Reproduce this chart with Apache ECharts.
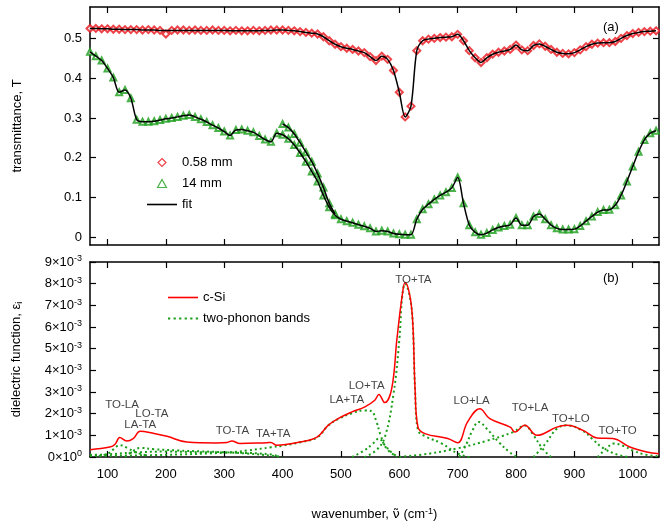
<!DOCTYPE html>
<html>
<head>
<meta charset="utf-8">
<script src="https://cdn.jsdelivr.net/npm/echarts@6/dist/echarts.min.js"></script>
<style>html,body{margin:0;padding:0;background:#fff}#main{width:660px;height:525px}</style>
</head>
<body>
<div id="main"></div>
<script>
// wavenumber grid of the transmittance data (cm-1), 70 .. 1040 every 10
const wn = Array.from({ length: 98 }, (_, i) => 70 + 10 * i)

// transmittance, 0.58 mm sample (data)
const t058 = [
  0.526, 0.526, 0.525, 0.525, 0.524, 0.524, 0.523, 0.523, 0.523, 0.522,
  0.523, 0.522, 0.521, 0.512, 0.521, 0.522, 0.522, 0.521, 0.522, 0.521,
  0.521, 0.522, 0.521, 0.521, 0.520, 0.521, 0.520, 0.520, 0.521, 0.520,
  0.521, 0.522, 0.522, 0.522, 0.521, 0.520, 0.518, 0.516, 0.514, 0.512,
  0.505, 0.495, 0.486, 0.480, 0.476, 0.473, 0.469, 0.465, 0.455, 0.445,
  0.456, 0.448, 0.420, 0.365, 0.303, 0.330, 0.470, 0.495, 0.499, 0.501,
  0.503, 0.504, 0.505, 0.511, 0.495, 0.470, 0.452, 0.440, 0.452, 0.461,
  0.466, 0.469, 0.473, 0.484, 0.472, 0.470, 0.483, 0.487, 0.481, 0.473,
  0.466, 0.463, 0.462, 0.465, 0.472, 0.480, 0.486, 0.489, 0.490, 0.490,
  0.493, 0.501, 0.508, 0.513, 0.516, 0.518, 0.519, 0.520
]
// fit for 0.58 mm
const fit058 = [
  0.526, 0.526, 0.525, 0.525, 0.524, 0.524, 0.523, 0.523, 0.523, 0.522,
  0.522, 0.522, 0.521, 0.521, 0.521, 0.521, 0.521, 0.521, 0.521, 0.521,
  0.521, 0.521, 0.521, 0.521, 0.520, 0.520, 0.520, 0.520, 0.520, 0.520,
  0.521, 0.521, 0.522, 0.522, 0.521, 0.520, 0.518, 0.516, 0.514, 0.512,
  0.505, 0.495, 0.486, 0.480, 0.476, 0.473, 0.469, 0.465, 0.455, 0.445,
  0.456, 0.448, 0.420, 0.365, 0.303, 0.330, 0.470, 0.495, 0.499, 0.501,
  0.503, 0.504, 0.505, 0.511, 0.495, 0.470, 0.452, 0.440, 0.452, 0.461,
  0.466, 0.469, 0.473, 0.484, 0.472, 0.470, 0.483, 0.487, 0.481, 0.473,
  0.466, 0.463, 0.462, 0.465, 0.472, 0.480, 0.486, 0.489, 0.490, 0.490,
  0.493, 0.501, 0.508, 0.513, 0.516, 0.518, 0.519, 0.520
]
// transmittance, 14 mm sample
const t14 = [
  0.467, 0.456, 0.445, 0.425, 0.402, 0.365, 0.371, 0.350, 0.296, 0.291,
  0.291, 0.292, 0.295, 0.298, 0.300, 0.303, 0.306, 0.308, 0.303, 0.297,
  0.290, 0.282, 0.275, 0.266, 0.256, 0.270, 0.271, 0.268, 0.264, 0.255,
  0.246, 0.240, 0.262, 0.258, 0.248, 0.232, 0.212, 0.190, 0.165, 0.140,
  0.105, 0.075, 0.055, 0.045, 0.040, 0.036, 0.031, 0.027, 0.022, 0.014,
  0.016, 0.014, 0.009, 0.007, 0.006, 0.006, 0.045, 0.070, 0.083, 0.095,
  0.105, 0.113, 0.124, 0.150, 0.085, 0.030, 0.012, 0.006, 0.010, 0.018,
  0.024, 0.028, 0.031, 0.048, 0.030, 0.030, 0.052, 0.058, 0.045, 0.030,
  0.022, 0.019, 0.019, 0.020, 0.028, 0.040, 0.052, 0.063, 0.068, 0.069,
  0.080, 0.105, 0.140, 0.178, 0.215, 0.245, 0.262, 0.268
]
// second (overlapping) 14 mm measurement range
const wn14b = [400, 410, 420, 430, 440, 450, 460, 470, 480, 490]
const t14b = [0.285, 0.276, 0.260, 0.238, 0.214, 0.190, 0.160, 0.125, 0.085, 0.058]

// dielectric function of c-Si (units of 1e-3)
const csiX = [70, 104, 113, 121, 133, 144, 156, 180, 202, 236, 287, 305, 313, 327, 373, 380, 390, 430, 459, 478, 495, 519, 541, 558, 565, 575, 587, 596, 605, 610, 618, 623, 627, 632, 644, 683, 700, 717, 738, 755, 790, 798, 815, 836, 870, 887, 915, 939, 966, 995, 1024, 1045]
const csiY = [0.34, 0.46, 0.59, 0.90, 0.74, 0.85, 1.19, 1.08, 0.955, 0.69, 0.65, 0.67, 0.74, 0.62, 0.66, 0.67, 0.54, 0.69, 0.92, 1.46, 1.77, 2.08, 2.31, 2.62, 2.88, 2.51, 3.16, 5.46, 7.46, 8.05, 7.46, 6.23, 3.16, 1.38, 1.08, 0.85, 0.66, 1.62, 2.23, 1.77, 1.38, 1.15, 1.46, 1.00, 1.38, 1.46, 1.23, 0.88, 0.85, 0.46, 0.23, 0.15]

// two-phonon bands (units of 1e-3)
const bands = [
  { x: [85, 100, 110, 121, 135, 150, 170], y: [0.05, 0.15, 0.35, 0.55, 0.40, 0.20, 0.05] },
  { x: [130, 145, 156, 180, 220, 260, 300, 340, 380, 400], y: [0, 0.30, 0.42, 0.36, 0.30, 0.26, 0.22, 0.16, 0.06, 0] },
  { x: [70, 100, 140, 200, 260, 320, 380, 395], y: [0.10, 0.12, 0.20, 0.25, 0.22, 0.20, 0.12, 0] },
  { x: [70, 200, 300, 340, 380, 400, 430, 459, 478, 495, 519, 540, 552, 560, 568, 578, 596], y: [0.05, 0.10, 0.20, 0.30, 0.45, 0.52, 0.68, 0.90, 1.45, 1.75, 2.02, 2.15, 2.12, 1.70, 1.00, 0.40, 0] },
  { x: [519, 540, 555, 565, 575, 588, 598], y: [0, 0.30, 0.62, 0.85, 0.55, 0.18, 0] },
  { x: [540, 560, 575, 590, 600, 605, 610, 618, 623, 627, 632, 645, 673, 700, 720], y: [0, 0.30, 0.90, 2.90, 5.40, 7.40, 8.00, 7.40, 6.20, 3.10, 1.23, 0.95, 0.62, 0.16, 0] },
  { x: [600, 650, 700, 750, 795, 815, 830, 845, 860], y: [0, 0.15, 0.40, 0.75, 1.15, 1.45, 1.00, 0.40, 0] },
  { x: [703, 715, 725, 736, 750, 770, 790, 802], y: [0, 0.60, 1.20, 1.62, 1.30, 0.70, 0.20, 0] },
  { x: [830, 850, 870, 887, 915, 930, 950, 975, 995], y: [0, 0.60, 1.30, 1.46, 1.20, 0.85, 0.40, 0.10, 0] },
  { x: [940, 955, 968, 985, 1000, 1020, 1045], y: [0, 0.40, 0.62, 0.50, 0.30, 0.12, 0.03] }
]

// peak labels (x in cm-1, y in 1e-3)
const annoText = ['TO-LA', 'LO-TA', 'LA-TA', 'TO-TA', 'TA+TA', 'LA+TA', 'LO+TA', 'TO+TA', 'LO+LA', 'TO+LA', 'TO+LO', 'TO+TO']
const annoX = [125, 176, 156, 314, 384, 510, 544, 624, 724, 824, 894, 974]
const annoY = [2.43, 1.97, 1.48, 1.23, 1.08, 2.66, 3.28, 8.20, 2.58, 2.28, 1.74, 1.23]

const xTicks = [100, 200, 300, 400, 500, 600, 700, 800, 900, 1000]
const tTicks = [0, 0.1, 0.2, 0.3, 0.4, 0.5]

const font = 'Liberation Sans, Arial, sans-serif'
const RED = '#e8141c'
const GREEN = '#1a9e1a'
const pairs = (xs, ys) => xs.map((x, i) => [x, ys[i]])

// legend icons
const ICON_DIAMOND = 'path://M5,0L10,5L5,10L0,5Z'
const ICON_TRIANGLE = 'path://M5,0L10,9L0,9Z'
const ICON_LINE = 'path://M0,0L30,0L30,1.6L0,1.6Z'
const ICON_DOTS = 'path://M0,0h2v2h-2zM5,0h2v2h-2zM10,0h2v2h-2zM15,0h2v2h-2zM20,0h2v2h-2zM25,0h2v2h-2z'

const frame = { onZero: false, lineStyle: { color: '#000', width: 1.5 } }
const tick = vals => ({ inside: true, length: 6, customValues: vals, lineStyle: { color: '#000', width: 1.2 } })
const xAx = (g, pos, labels) => ({
  gridIndex: g, type: 'value', min: 70, max: 1045, position: pos,
  axisLine: frame, axisTick: tick(xTicks), splitLine: { show: false },
  axisLabel: labels
    ? { customValues: xTicks, formatter: v => String(v), color: '#000', fontSize: 13, fontFamily: font, margin: 11 }
    : { show: false }
})
const legendText = { fontSize: 13, color: '#000', fontFamily: font }

const chart = echarts.init(document.getElementById('main'))
chart.setOption({
  animation: false,
  textStyle: { fontFamily: font, color: '#000' },
  grid: [
    { left: 90, right: 1, top: 7, height: 238 },
    { left: 90, right: 1, top: 262, height: 195 }
  ],
  xAxis: [
    xAx(0, 'bottom', false),
    xAx(0, 'top', false),
    Object.assign(xAx(1, 'bottom', true), {
      name: 'wavenumber, {nu|ν\u0303} (cm{sup|-1})', nameLocation: 'middle', nameGap: 50,
      nameTextStyle: {
        fontSize: 13, color: '#000', fontFamily: font,
        rich: {
          nu: { fontSize: 13, fontFamily: 'DejaVu Sans', color: '#000' },
          sup: { fontSize: 9, verticalAlign: 'top', padding: [0, 0, 6, 0], color: '#000' }
        }
      }
    }),
    xAx(1, 'top', false)
  ],
  yAxis: [
    {
      gridIndex: 0, type: 'value', min: -0.02, max: 0.58, position: 'left',
      axisLine: frame, axisTick: tick(tTicks), splitLine: { show: false },
      axisLabel: { customValues: tTicks, color: '#000', fontSize: 13, fontFamily: font, margin: 8 },
      name: 'transmittance, T', nameLocation: 'middle', nameRotate: 90, nameGap: 66,
      nameTextStyle: { fontSize: 13, color: '#000', fontFamily: font }
    },
    {
      gridIndex: 0, type: 'value', min: -0.02, max: 0.58, position: 'right',
      axisLine: frame, axisTick: tick(tTicks), axisLabel: { show: false }, splitLine: { show: false }
    },
    {
      gridIndex: 1, type: 'value', min: 0, max: 9, interval: 1, position: 'left',
      axisLine: frame, axisTick: { inside: true, length: 6, lineStyle: { color: '#000', width: 1.2 } }, splitLine: { show: false },
      axisLabel: {
        color: '#000', fontSize: 13, fontFamily: font, margin: 8,
        formatter: v => v === 0 ? '0×10{sup|0}' : v + '×10{sup|-3}',
        rich: { sup: { fontSize: 9, verticalAlign: 'top', padding: [0, 0, 6, 0] } }
      },
      name: 'dielectric function, ε{sub|i}', nameLocation: 'middle', nameRotate: 90, nameGap: 66,
      nameTextStyle: { fontSize: 13, color: '#000', fontFamily: font, rich: { sub: { fontSize: 9, verticalAlign: 'bottom', padding: [6, 0, 0, 0] } } }
    },
    {
      gridIndex: 1, type: 'value', min: 0, max: 9, interval: 1, position: 'right',
      axisLine: frame, axisTick: { inside: true, length: 6, lineStyle: { color: '#000', width: 1.2 } },
      axisLabel: { show: false }, splitLine: { show: false }
    }
  ],
  legend: [
    {
      data: [
        { name: '0.58 mm', icon: ICON_DIAMOND, itemStyle: { color: '#fff', borderColor: RED, borderWidth: 1.2 } },
        { name: '14 mm', icon: ICON_TRIANGLE, itemStyle: { color: '#fff', borderColor: GREEN, borderWidth: 1.2 } },
        { name: 'fit', icon: ICON_LINE, itemStyle: { color: '#000', borderWidth: 0 } }
      ],
      orient: 'vertical', left: 142, top: 151, itemWidth: 30, itemHeight: 8, itemGap: 8,
      symbolKeepAspect: true, textStyle: legendText
    },
    {
      data: [
        { name: 'c-Si', icon: ICON_LINE, itemStyle: { color: '#ff0000', borderWidth: 0 } },
        { name: 'two-phonon bands', icon: ICON_DOTS, itemStyle: { color: GREEN, borderWidth: 0 } }
      ],
      orient: 'vertical', left: 163, top: 286, itemWidth: 30, itemHeight: 8, itemGap: 8,
      symbolKeepAspect: true, textStyle: legendText
    }
  ],
  graphic: [
    { type: 'text', left: 603, top: 21, style: { text: '(a)', font: '13px ' + font, fill: '#000' } },
    { type: 'text', left: 603, top: 272, style: { text: '(b)', font: '13px ' + font, fill: '#000' } }
  ],
  series: [
    {
      name: '0.58 mm', type: 'scatter', xAxisIndex: 0, yAxisIndex: 0, data: pairs(wn, t058),
      symbol: 'emptyDiamond', symbolSize: 7, itemStyle: { color: RED, borderWidth: 1.3 }
    },
    {
      name: '14 mm', type: 'scatter', xAxisIndex: 0, yAxisIndex: 0, data: pairs(wn, t14),
      symbol: 'emptyTriangle', symbolSize: 6, itemStyle: { color: GREEN, borderWidth: 1.3 }
    },
    {
      name: '14 mm', type: 'scatter', xAxisIndex: 0, yAxisIndex: 0, data: pairs(wn14b, t14b),
      symbol: 'emptyTriangle', symbolSize: 6, itemStyle: { color: GREEN, borderWidth: 1.3 }
    },
    { name: 'fit', type: 'line', xAxisIndex: 0, yAxisIndex: 0, data: pairs(wn, fit058), symbol: 'none', smooth: 0.3, z: 5, lineStyle: { color: '#000', width: 1.5 }, itemStyle: { color: '#000' } },
    { name: 'fit', type: 'line', xAxisIndex: 0, yAxisIndex: 0, data: pairs(wn, t14), symbol: 'none', smooth: 0.3, z: 5, lineStyle: { color: '#000', width: 1.5 }, itemStyle: { color: '#000' } },
    { name: 'fit', type: 'line', xAxisIndex: 0, yAxisIndex: 0, data: pairs(wn14b, t14b), symbol: 'none', smooth: 0.3, z: 5, lineStyle: { color: '#000', width: 1.5 }, itemStyle: { color: '#000' } },
    ...bands.map(b => ({
      name: 'two-phonon bands', type: 'line', xAxisIndex: 2, yAxisIndex: 2, data: pairs(b.x, b.y),
      symbol: 'none', smooth: 0.4, lineStyle: { color: GREEN, width: 2, type: [2, 3] }, itemStyle: { color: GREEN }
    })),
    {
      name: 'c-Si', type: 'line', xAxisIndex: 2, yAxisIndex: 2, data: pairs(csiX, csiY),
      symbol: 'none', smooth: 0.4, z: 5, lineStyle: { color: '#ff0000', width: 1.5 }, itemStyle: { color: '#ff0000' }
    },
    {
      name: 'labels', type: 'scatter', xAxisIndex: 2, yAxisIndex: 2, symbolSize: 0, silent: true, z: 6,
      data: annoText.map((t, i) => ({ name: t, value: [annoX[i], annoY[i]] })),
      label: { show: true, position: 'inside', formatter: '{b}', fontSize: 11.5, color: '#111', textBorderWidth: 0, fontFamily: font }
    }
  ]
})
</script>
</body>
</html>
